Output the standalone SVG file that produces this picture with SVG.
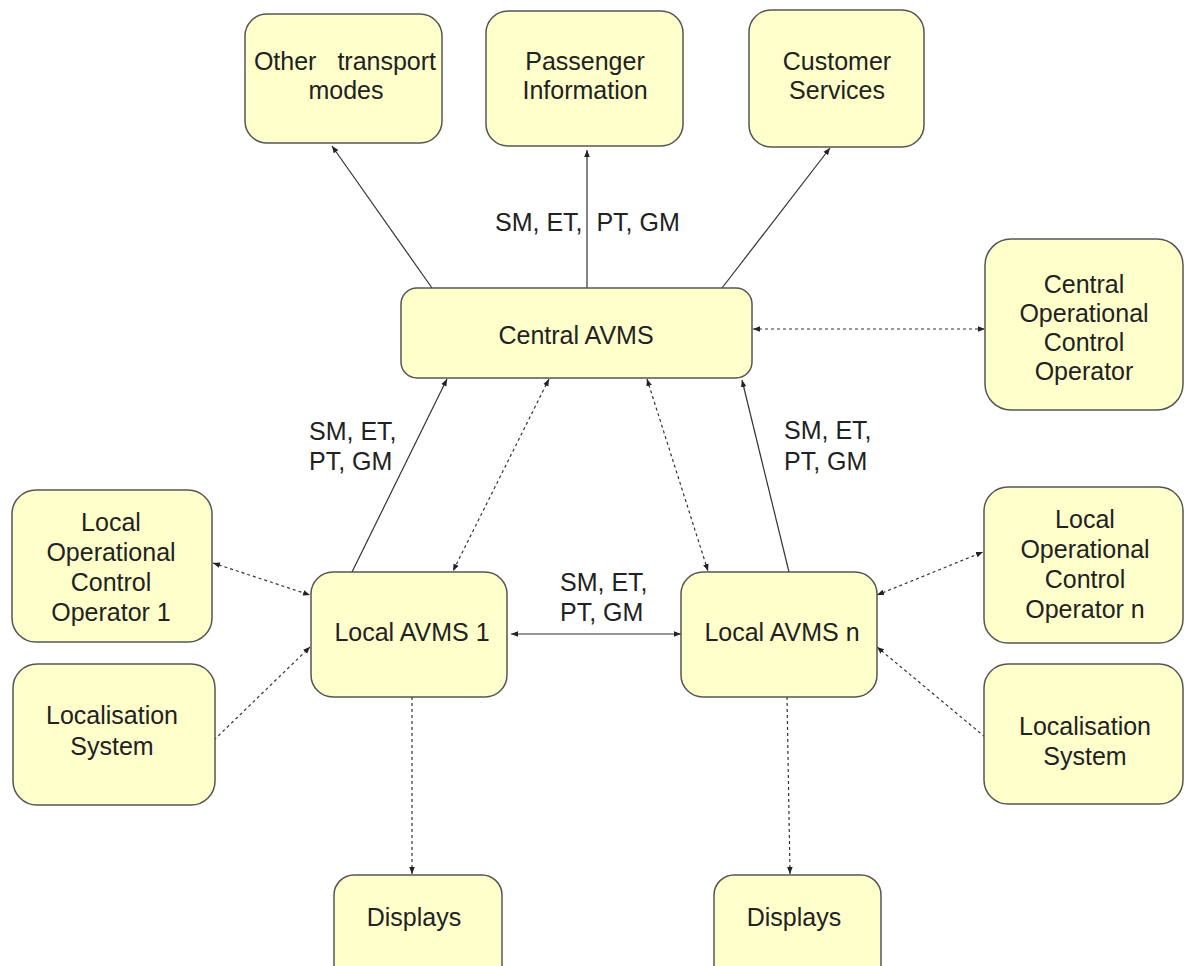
<svg xmlns="http://www.w3.org/2000/svg" width="1184" height="966" viewBox="0 0 1184 966">
<style>
.box{fill:#ffffcc;stroke:#555;stroke-width:1.5}
.t{font-family:"Liberation Sans",Arial,sans-serif;font-size:25px;fill:#222;text-anchor:middle}
.l{font-family:"Liberation Sans",Arial,sans-serif;font-size:25px;fill:#222}
.s{stroke:#333;stroke-width:1.2;fill:none}
.d{stroke:#333;stroke-width:1.2;fill:none;stroke-dasharray:3,3}
</style>
<defs>
<marker id="ah" viewBox="0 0 10 10" refX="10" refY="5" markerWidth="7" markerHeight="7" markerUnits="userSpaceOnUse" orient="auto-start-reverse">
<path d="M0,1 L10,5 L0,9 z" fill="#222"/>
</marker>
</defs>
<rect width="1184" height="966" fill="#fff"/>
<g id="connectors">
<line class="s" x1="432" y1="288" x2="332" y2="146" marker-end="url(#ah)"/>
<line class="s" x1="587" y1="288" x2="587" y2="150" marker-end="url(#ah)"/>
<line class="s" x1="722" y1="288" x2="830" y2="148" marker-end="url(#ah)"/>
<line class="s" x1="352" y1="572" x2="447" y2="379" marker-end="url(#ah)"/>
<line class="s" x1="789" y1="572" x2="742" y2="380" marker-end="url(#ah)"/>
<line class="s" x1="511" y1="634" x2="681" y2="634" marker-start="url(#ah)" marker-end="url(#ah)"/>
<line class="d" x1="753" y1="329" x2="985" y2="329" marker-start="url(#ah)" marker-end="url(#ah)"/>
<line class="d" x1="549" y1="379" x2="453" y2="571" marker-start="url(#ah)" marker-end="url(#ah)"/>
<line class="d" x1="647" y1="379" x2="708" y2="571" marker-start="url(#ah)" marker-end="url(#ah)"/>
<line class="d" x1="213" y1="563" x2="310" y2="595" marker-start="url(#ah)" marker-end="url(#ah)"/>
<line class="d" x1="214" y1="740" x2="310" y2="647" marker-end="url(#ah)"/>
<line class="d" x1="877" y1="595" x2="983" y2="552" marker-start="url(#ah)" marker-end="url(#ah)"/>
<line class="d" x1="985" y1="737" x2="877" y2="647" marker-end="url(#ah)"/>
<line class="d" x1="412" y1="697" x2="412" y2="874" marker-end="url(#ah)"/>
<line class="d" x1="787" y1="697" x2="790" y2="874" marker-end="url(#ah)"/>
<text class="l" x="495" y="231" xml:space="preserve">SM, ET,  PT, GM</text>
<text class="l" x="309" y="440">SM, ET,</text>
<text class="l" x="309" y="470">PT, GM</text>
<text class="l" x="784" y="439">SM, ET,</text>
<text class="l" x="784" y="470">PT, GM</text>
<text class="l" x="560" y="591">SM, ET,</text>
<text class="l" x="560" y="621">PT, GM</text>
</g>
<g id="other">
<rect class="box" x="245" y="14" width="197" height="129" rx="22"/>
<text class="t" x="345" y="70" word-spacing="14">Other transport</text>
<text class="t" x="346" y="99">modes</text>
</g>
<g id="passenger">
<rect class="box" x="486" y="11" width="197" height="135" rx="22"/>
<text class="t" x="585" y="70">Passenger</text>
<text class="t" x="585" y="99">Information</text>
</g>
<g id="customer">
<rect class="box" x="749" y="10" width="175" height="137" rx="22"/>
<text class="t" x="837" y="70">Customer</text>
<text class="t" x="837" y="99">Services</text>
</g>
<g id="central">
<rect class="box" x="401" y="288" width="351" height="90" rx="16"/>
<text class="t" x="576" y="344">Central AVMS</text>
</g>
<g id="centralOp">
<rect class="box" x="985" y="239" width="198" height="171" rx="26"/>
<text class="t" x="1084" y="293">Central</text>
<text class="t" x="1084" y="322">Operational</text>
<text class="t" x="1084" y="351">Control</text>
<text class="t" x="1084" y="380">Operator</text>
</g>
<g id="localOp1">
<rect class="box" x="12" y="490" width="200" height="152" rx="24"/>
<text class="t" x="111" y="531">Local</text>
<text class="t" x="111" y="561">Operational</text>
<text class="t" x="111" y="591">Control</text>
<text class="t" x="111" y="621">Operator 1</text>
</g>
<g id="loc1">
<rect class="box" x="13" y="664" width="202" height="141" rx="24"/>
<text class="t" x="112" y="724">Localisation</text>
<text class="t" x="112" y="755">System</text>
</g>
<g id="local1">
<rect class="box" x="311" y="572" width="196" height="125" rx="22"/>
<text class="t" x="412" y="641">Local AVMS 1</text>
</g>
<g id="localN">
<rect class="box" x="681" y="572" width="196" height="125" rx="22"/>
<text class="t" x="782" y="641">Local AVMS n</text>
</g>
<g id="localOpN">
<rect class="box" x="984" y="487" width="199" height="156" rx="24"/>
<text class="t" x="1085" y="528">Local</text>
<text class="t" x="1085" y="558">Operational</text>
<text class="t" x="1085" y="588">Control</text>
<text class="t" x="1085" y="618">Operator n</text>
</g>
<g id="locN">
<rect class="box" x="984" y="664" width="199" height="140" rx="24"/>
<text class="t" x="1085" y="735">Localisation</text>
<text class="t" x="1085" y="765">System</text>
</g>
<g id="disp1">
<rect class="box" x="334" y="875" width="168" height="115" rx="20"/>
<text class="t" x="414" y="926">Displays</text>
</g>
<g id="dispN">
<rect class="box" x="714" y="875" width="167" height="115" rx="20"/>
<text class="t" x="794" y="926">Displays</text>
</g>
</svg>
